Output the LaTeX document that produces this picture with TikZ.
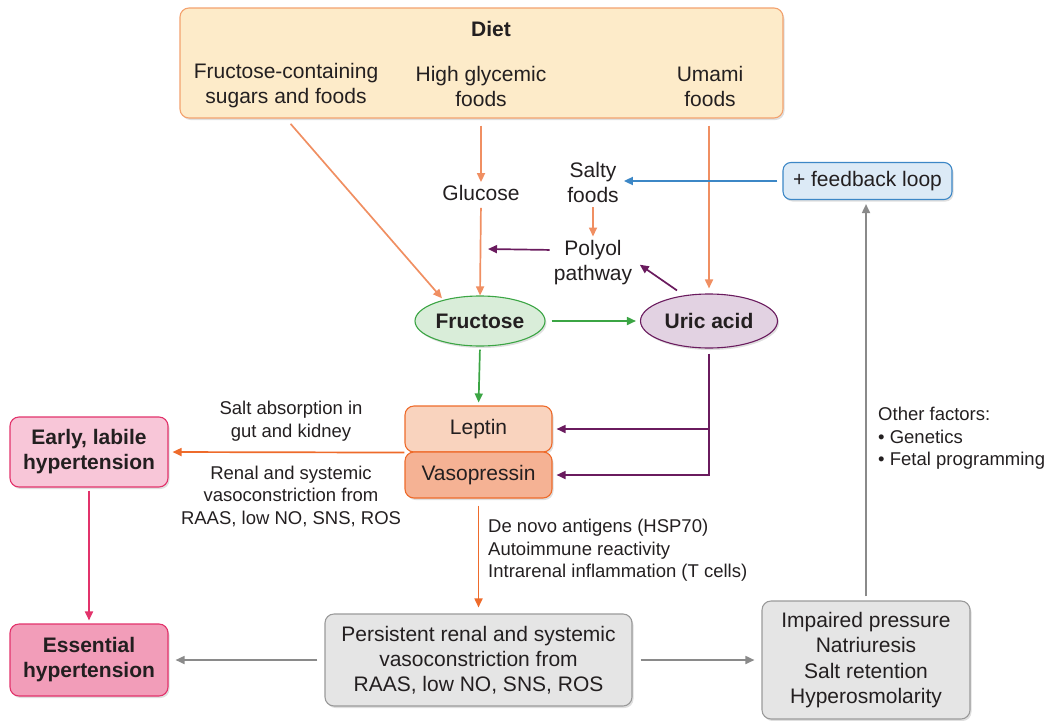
\documentclass[tikz,border=0pt]{standalone}
\usepackage{fontspec}
\setmainfont{Liberation Sans}
\usetikzlibrary{arrows.meta,shapes.geometric,shadows,calc}
\definecolor{txt}{HTML}{231F20}
\definecolor{dietfill}{HTML}{FDEBC9}
\definecolor{dietdraw}{HTML}{F3A26E}
\definecolor{salmon}{HTML}{F08F62}
\definecolor{grn}{HTML}{3BA544}
\definecolor{grnfill}{HTML}{D9EDD9}
\definecolor{purp}{HTML}{6A1B5E}
\definecolor{purpfill}{HTML}{E2D2E2}
\definecolor{blu}{HTML}{3C87C6}
\definecolor{blufill}{HTML}{DCEAF6}
\definecolor{lepfill}{HTML}{F9D3BE}
\definecolor{vasofill}{HTML}{F5B294}
\definecolor{orng}{HTML}{EE6B2B}
\definecolor{pinkdraw}{HTML}{E2336B}
\definecolor{earlyfill}{HTML}{F8C6D8}
\definecolor{essfill}{HTML}{F29DB9}
\definecolor{grayfill}{HTML}{E5E5E5}
\definecolor{graydraw}{HTML}{9A9A9A}
\definecolor{grayarr}{HTML}{8A8A8A}
\begin{document}
\begin{tikzpicture}[x=1pt,y=-1pt,
  big/.style={font=\fontsize{21}{25}\selectfont, text=txt, align=center, inner sep=0pt},
  small/.style={font=\fontsize{18.5}{22.5}\selectfont, text=txt, inner sep=0pt},
  box/.style={rounded corners=9pt, line width=1.1pt, text=txt, align=center,
    font=\fontsize{21}{25}\selectfont,
    drop shadow={shadow xshift=1.5pt, shadow yshift=-2pt, opacity=0.25}},
  oval/.style={ellipse, line width=1.1pt, inner sep=0pt, text=txt,
    font=\fontsize{21}{25}\selectfont\bfseries,
    drop shadow={shadow xshift=1.5pt, shadow yshift=-2pt, opacity=0.25}},
  arr/.style={line width=1.7pt, -{Triangle[length=9pt,width=8pt]}},
]
\useasboundingbox (0,0) rectangle (1048,720);

% Diet box
\node[box, draw=dietdraw, fill=dietfill, minimum width=603pt, minimum height=110pt] (diet) at (481.5,63) {};
\node[big, font=\fontsize{21}{25}\selectfont\bfseries] (dietT) at (491,29) {Diet};
\node[big] (fcs) at (286,86) {Fructose-containing\\sugars and foods};
\node[big] (hgf) at (481,86) {High glycemic\\foods};
\node[big] (umf) at (710,86) {Umami\\foods};

% middle texts
\node[big] (glu) at (481,193) {Glucose};
\node[big] (salty) at (593,182) {Salty\\foods};
\node[big] (poly) at (593,263) {Polyol\\pathway};
\coordinate (polyend) at (488,249);

% ellipses
\node[oval, draw=grn, fill=grnfill, minimum width=130pt, minimum height=50pt] (fruc) at (480,321) {Fructose};
\node[oval, draw=purp, fill=purpfill, minimum width=137pt, minimum height=54pt] (uric) at (709,321) {Uric acid};

% feedback box
\node[box, draw=blu, fill=blufill, minimum width=169pt, minimum height=37pt, rounded corners=8pt] (fb) at (867.5,181) {+ feedback loop};

% leptin / vasopressin
\node[box, draw=orng, fill=lepfill, minimum width=147pt, minimum height=46pt] (lep) at (478.5,429) {Leptin};
\node[box, draw=orng, fill=vasofill, minimum width=147pt, minimum height=46pt] (vaso) at (478.5,475) {Vasopressin};

% hypertension boxes
\node[box, draw=pinkdraw, fill=earlyfill, minimum width=158pt, minimum height=70pt, font=\fontsize{21}{25}\selectfont\bfseries] (early) at (89,452) {Early, labile\\hypertension};
\node[box, draw=pinkdraw, fill=essfill, minimum width=158pt, minimum height=72pt, font=\fontsize{21}{25}\selectfont\bfseries] (ess) at (89,660) {Essential\\hypertension};

% bottom gray boxes
\node[box, draw=graydraw, fill=grayfill, minimum width=307pt, minimum height=92pt] (pers) at (478.5,660) {Persistent renal and systemic\\vasoconstriction from\\RAAS, low NO, SNS, ROS};
\node[box, draw=graydraw, fill=grayfill, minimum width=208pt, minimum height=118pt, font=\fontsize{21}{25.5}\selectfont] (imp) at (866,660) {Impaired pressure\\Natriuresis\\Salt retention\\Hyperosmolarity};

% labels
\node[small, align=center] (saltabs) at (291,421) {Salt absorption in\\gut and kidney};
\node[small, align=center] (renal) at (291,496) {Renal and systemic\\vasoconstriction from\\RAAS, low NO, SNS, ROS};
\node[small, align=left, anchor=north west] (denovo) at (488,519) {De novo antigens (HSP70)\\Autoimmune reactivity\\Intrarenal inflammation (T cells)};
\node[small, align=left, anchor=north west] (other) at (878,407) {Other factors:\\\textbullet{} Genetics\\\textbullet{} Fetal programming};

% connectors: diet
\draw[arr, salmon, shorten <=7pt, shorten >=2pt] (fcs.south |- diet.south) -- (fruc.150);
\draw[arr, salmon, shorten <=7pt, shorten >=3pt] (glu.north |- diet.south) -- (glu.north);
\draw[arr, salmon, shorten <=7pt, shorten >=0pt] (glu.south) -- (fruc.north);
\draw[arr, salmon, shorten <=7pt, shorten >=5pt] (uric.north |- diet.south) -- (uric.north);
\draw[arr, salmon, shorten <=5pt, shorten >=4pt] (salty.south) -- (poly.north);

% feedback
\draw[arr, blu, shorten <=5pt, shorten >=5pt] (fb.west) -- (salty.east |- fb.west);

% polyol
\draw[arr, purp, shorten <=4pt] ($(poly.west)+(0,-13)$) -- (polyend);
\draw[arr, purp, shorten >=3pt] ($(uric.north)+(-32,-3)$) -- ($(poly.east)+(5,0)$);

% fructose
\draw[arr, grn, shorten <=6pt, shorten >=4pt] (fruc.east) -- (uric.west);
\draw[arr, grn, shorten <=3pt, shorten >=3pt] (fruc.south) -- (lep.north);

% uric to leptin/vasopressin
\draw[arr, purp, shorten <=5pt, shorten >=4pt] (uric.south) |- (vaso.east);
\draw[arr, purp, shorten >=4pt] (uric.south |- lep.east) -- (lep.east);

% to early
\draw[arr, orng, shorten >=4pt] (lep.south west) -- (early.east);
\draw[arr, pinkdraw, shorten <=3pt, shorten >=3pt] (early.south) -- (ess.north);

% to persistent
\draw[arr, orng, shorten <=7pt, shorten >=6pt] (vaso.south) -- (pers.north);
\draw[arr, grayarr, shorten <=7pt, shorten >=7pt] (pers.west) -- (ess.east);
\draw[arr, grayarr, shorten <=8pt, shorten >=7pt] (pers.east) -- (imp.west);
\draw[arr, grayarr, shorten <=4pt, shorten >=4pt] (imp.north) -- (imp.north |- fb.south);
\end{tikzpicture}
\end{document}
